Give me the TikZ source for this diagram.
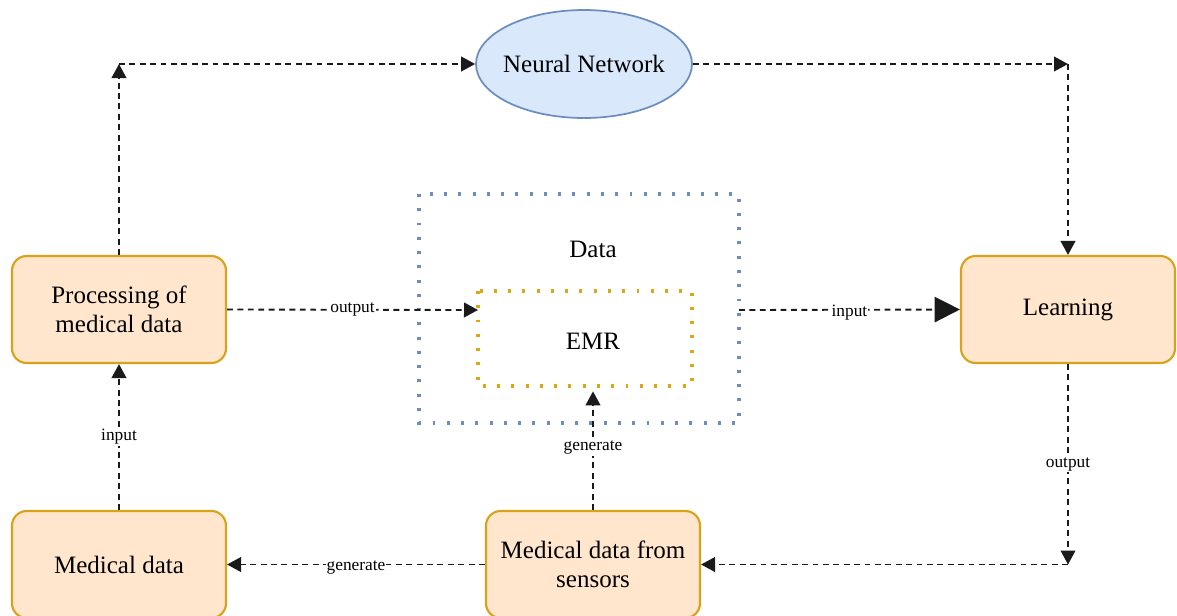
\documentclass[tikz,border=0pt]{standalone}
\usepackage{fontspec}
\setmainfont{Liberation Serif}
\usetikzlibrary{arrows.meta,shapes.geometric}

\definecolor{boxfill}{HTML}{FFE6CC}
\definecolor{boxline}{HTML}{D9A21B}
\definecolor{nnfill}{HTML}{DAE8FC}
\definecolor{nnline}{HTML}{6C8EBF}
\definecolor{emrline}{HTML}{DDA613}
\definecolor{linkcol}{HTML}{1A1A1A}

\tikzset{
  mainfont/.style={font=\fontsize{18.75}{21.75}\selectfont},
  stepbox/.style={rectangle, rounded corners=11pt, draw=boxline, fill=boxfill,
    line width=1.6pt, minimum width=160.5pt, minimum height=80.25pt,
    align=center, mainfont},
  dotframe/.style={line width=2.4pt, dash pattern=on 2.2pt off 8.5pt},
  link/.style={draw=linkcol, line width=1.4pt, dash pattern=on 4.4pt off 3.4pt,
    -{Triangle[length=10.5pt,width=11pt]}},
  biglink/.style={link, -{Triangle[length=19pt,width=19pt]}},
  edgelabel/.style={fill=white, inner sep=0.8pt, text=black,
    font=\fontsize{13}{15}\selectfont},
}

\begin{document}
\begin{tikzpicture}[x=0.75pt, y=-0.75pt]
\useasboundingbox (0,0) rectangle (1177,615);
\clip (0,0) rectangle (1177,615);

% data container and the EMR record inside it
\draw[dotframe, draw=nnline] (419,194) rectangle (739,423);
\draw[dotframe, draw=emrline] (478,291) rectangle (692,386);
\coordinate (dataE) at (739,310);
\coordinate (emrW) at (478,310);
\coordinate (emrS) at (593,386);
\node[mainfont] (datatext) at (593,249) {Data};
\node[mainfont] (emrtext) at (593,341) {EMR};

% process boxes
\node[stepbox] (proc)  at (119,309.5) {Processing of\\medical data};
\node[stepbox] (learn) at (1068,309.5) {Learning};
\node[stepbox] (med)   at (119,564.5) {Medical data};
\node[stepbox] (sens)  at (593,564.5) {Medical data from\\sensors};

% neural network
\node[ellipse, draw=nnline, fill=nnfill, line width=1.3pt, inner sep=0pt,
      minimum width=162pt, minimum height=81pt] (nn) at (584,64) {};
\node[mainfont] (nntext) at (nn.center) {Neural Network};

% corners of the routed connectors
\coordinate (c1) at (proc.north |- nn.west);
\coordinate (c2) at (learn.north |- nn.east);
\coordinate (c3) at (learn.south |- sens.east);

% connectors
\draw[link] (proc.north) -- (c1);
\draw[link] (c1) -- (nn.west);
\draw[link] (nn.east) -- (c2);
\draw[link] (c2) -- (learn.north);

\draw[link] (proc.east) -- node[edgelabel] {output} (emrW);
\draw[biglink] (dataE) -- node[edgelabel, yshift=-2pt] {input} (learn.west);

\draw[link] (learn.south) -- node[edgelabel] {output} (c3);
\draw[link] (c3) -- (sens.east);

\draw[link, shorten >=4pt] (sens.north) -- node[edgelabel] {generate} (emrS);
\draw[link] (sens.west) -- node[edgelabel, yshift=-2pt] {generate} (med.east);
\draw[link] (med.north) -- node[edgelabel] {input} (proc.south);
\end{tikzpicture}
\end{document}
